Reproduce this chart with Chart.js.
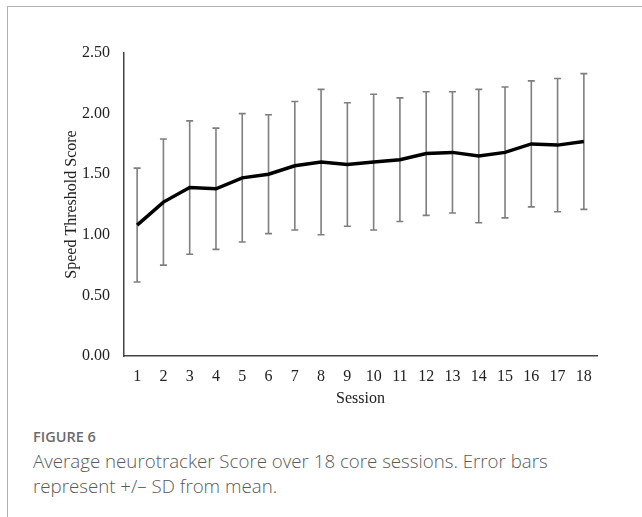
<!DOCTYPE html>
<html>
<head>
<meta charset="utf-8">
<script src="https://cdn.jsdelivr.net/npm/chart.js@4.4.0/dist/chart.umd.min.js"></script>
<style>
  html, body { margin: 0; padding: 0; background: #fff; }
  #frame { position: relative; width: 642px; height: 517px; overflow: hidden; background: #fff; }
  #frame .bt { position: absolute; left: 7px; top: 6px; right: 0; height: 0; border-top: 1.5px solid #b0b0b0; }
  #frame .bl { position: absolute; left: 7px; top: 6px; bottom: 0; width: 0; border-left: 1.5px solid #b0b0b0; }
  #wrap { position: absolute; left: 0; top: 0; width: 642px; height: 420px; }
  #fig { position: absolute; left: 33px; top: 427px; font-family: "Open Sans", sans-serif; font-size: 14.5px; line-height: 20px; font-weight: 600; color: #6b6b6b; white-space: nowrap; }
  #cap { position: absolute; left: 33px; top: 449px; width: 609px; font-family: "Open Sans", sans-serif; font-size: 18.7px; line-height: 24.5px; color: #5a5a5a; font-weight: 300; white-space: nowrap; }
</style>
</head>
<body>
<div id="frame">
  <div class="bt"></div>
  <div class="bl"></div>
  <div id="wrap"><canvas id="c"></canvas></div>
  <div id="fig">FIGURE 6</div>
  <div id="cap">Average neurotracker Score over 18 core sessions. Error bars<br>represent +/&#8211; SD from mean.</div>
</div>
<script>
const sessions = ["1","2","3","4","5","6","7","8","9","10","11","12","13","14","15","16","17","18"];
const meanScore = [1.08, 1.27, 1.39, 1.38, 1.47, 1.50, 1.57, 1.60, 1.58, 1.60, 1.62, 1.67, 1.68, 1.65, 1.68, 1.75, 1.74, 1.77];
const sdScore = [0.47, 0.52, 0.55, 0.50, 0.53, 0.49, 0.53, 0.60, 0.51, 0.56, 0.51, 0.51, 0.50, 0.55, 0.54, 0.52, 0.55, 0.56];
const yTicks = [0, 0.5, 1.0, 1.5, 2.0, 2.5];

const serif = "'Liberation Serif', 'Times New Roman', serif";

const errorBars = {
  id: 'errorBars',
  beforeDatasetsDraw(chart) {
    const {ctx, scales: {x, y}} = chart;
    ctx.save();
    ctx.strokeStyle = '#7f7f7f';
    ctx.lineWidth = 1.6;
    const cap = 3.5;
    meanScore.forEach((m, i) => {
      const px = x.getPixelForValue(i);
      const top = y.getPixelForValue(m + sdScore[i]);
      const bot = y.getPixelForValue(m - sdScore[i]);
      ctx.beginPath();
      ctx.moveTo(px, top); ctx.lineTo(px, bot);
      ctx.moveTo(px - cap, top); ctx.lineTo(px + cap, top);
      ctx.moveTo(px - cap, bot); ctx.lineTo(px + cap, bot);
      ctx.stroke();
    });
    ctx.restore();
  }
};

new Chart(document.getElementById('c'), {
  type: 'line',
  data: {
    labels: sessions,
    datasets: [{
      data: meanScore,
      borderColor: '#000',
      borderWidth: 3.5,
      pointRadius: 0,
      tension: 0,
      fill: false
    }]
  },
  options: {
    responsive: true,
    maintainAspectRatio: false,
    animation: false,
    layout: { padding: { left: 58, top: 53, right: 45, bottom: 8 } },
    plugins: { legend: { display: false }, tooltip: { enabled: false } },
    scales: {
      x: {
        offset: true,
        grid: { display: false, drawTicks: false },
        border: { display: true, color: '#444', width: 1.5 },
        ticks: { color: '#222', padding: 11, font: { family: serif, size: 16 }, maxRotation: 0, autoSkip: false },
        title: { display: true, text: 'Session', color: '#222', font: { family: serif, size: 16 } },
        afterFit(s) { s.height = 56; }
      },
      y: {
        min: 0, max: 2.5,
        afterBuildTicks(s) { s.ticks = yTicks.map(v => ({ value: v })); },
        grid: { display: false, drawTicks: false },
        border: { display: true, color: '#444', width: 1.5 },
        ticks: { color: '#222', padding: 14, font: { family: serif, size: 16 }, callback: v => Number(v).toFixed(2) },
        title: { display: true, text: 'Speed Threshold Score', color: '#222', font: { family: serif, size: 16 } },
        afterFit(s) { s.width = 66; }
      }
    }
  },
  plugins: [errorBars]
});
</script>
</body>
</html>
